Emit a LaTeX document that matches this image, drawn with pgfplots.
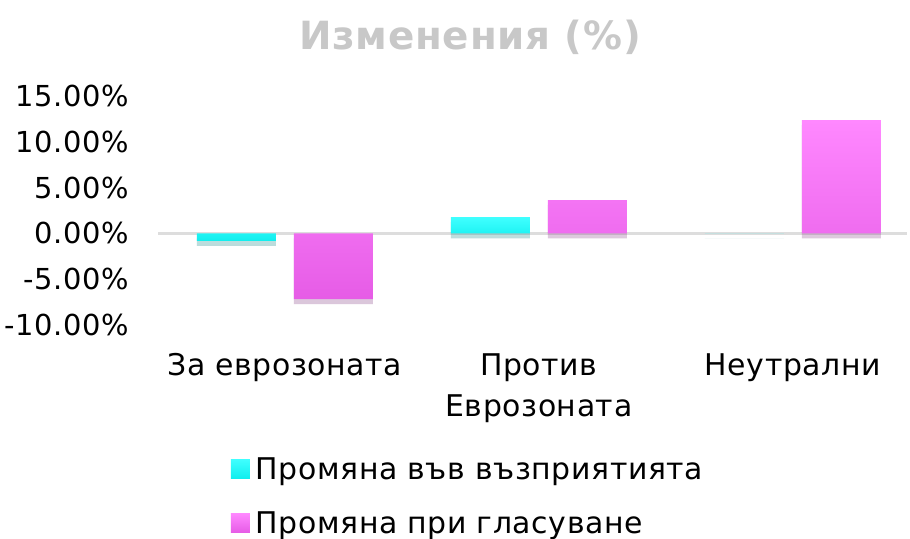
\documentclass[border=0pt]{standalone}
\usepackage{fontspec}
\setmainfont{DejaVu Sans}[LetterSpace=2]
\usepackage{pgfplots}
\pgfplotsset{compat=1.18}
\usetikzlibrary{shadows}
\definecolor{cyanTop}{HTML}{40FFFF}
\definecolor{cyanBot}{HTML}{10EEEE}
\definecolor{magTop}{HTML}{FF88FF}
\definecolor{magBot}{HTML}{E65CE6}
\definecolor{titlegray}{HTML}{C8C8C8}
\definecolor{zerogray}{HTML}{DDDDDD}
\begin{document}
\begin{tikzpicture}[x=1bp,y=1bp]
\useasboundingbox (0,0) rectangle (910,539);
\node[font=\fontsize{39}{44}\selectfont\bfseries, text=titlegray] at (470,502) {Изменения (\%)};
\begin{axis}[
  at={(158bp,214bp)}, anchor=south west,
  scale only axis, width=749bp, height=229bp,
  xmin=-0.5, xmax=2.45, ymin=-10, ymax=15,
  axis line style={draw=none},
  tick style={draw=none},
  ybar, bar width=79bp,
  xtick={0,1,2},
  xticklabels={За еврозоната, {Против\\Еврозоната}, Неутрални},
  xticklabel style={font=\fontsize{30}{41}\selectfont, align=center, anchor=north, yshift=-21bp},
  ytick={-10,-5,0,5,10,15},
  yticklabel={\pgfmathprintnumber[fixed,fixed zerofill,precision=2]{\tick}\%},
  yticklabel style={font=\fontsize{29}{32}\selectfont, anchor=east, xshift=-26bp},
  /pgf/number format/assume math mode=true,
  legend style={draw=none, fill=none, at={(rel axis cs:0.093,-0.56)}, anchor=north west,
    font=\fontsize{30}{32}\selectfont, row sep=27bp, legend cell align=left,
    nodes={inner xsep=6bp}},
]
\draw[zerogray, line width=2.5bp] (axis cs:-0.5,0) -- (axis cs:2.45,0);
\addplot[forget plot, bar shift=-48.5bp, draw=none, top color=cyanTop, bottom color=cyanBot, drop shadow={shadow xshift=0bp, shadow yshift=-5bp, fill=black, opacity=0.15}] coordinates {(0,-0.81) (1,1.78) (2,0)};
\addplot[forget plot, bar shift=48.5bp, draw=none, top color=magTop, bottom color=magBot, drop shadow={shadow xshift=0bp, shadow yshift=-5bp, fill=black, opacity=0.15}] coordinates {(0,-7.17) (1,3.64) (2,12.37)};
\addlegendimage{legend image code/.code={\fill[top color=cyanTop, bottom color=cyanBot, draw=none] (0bp,-9bp) rectangle (19bp,10bp);}}
\addlegendentry{Промяна във възприятията}
\addlegendimage{legend image code/.code={\fill[top color=magTop, bottom color=magBot, draw=none] (0bp,-9bp) rectangle (19bp,10bp);}}
\addlegendentry{Промяна при гласуване}
\end{axis}
\end{tikzpicture}
\end{document}
